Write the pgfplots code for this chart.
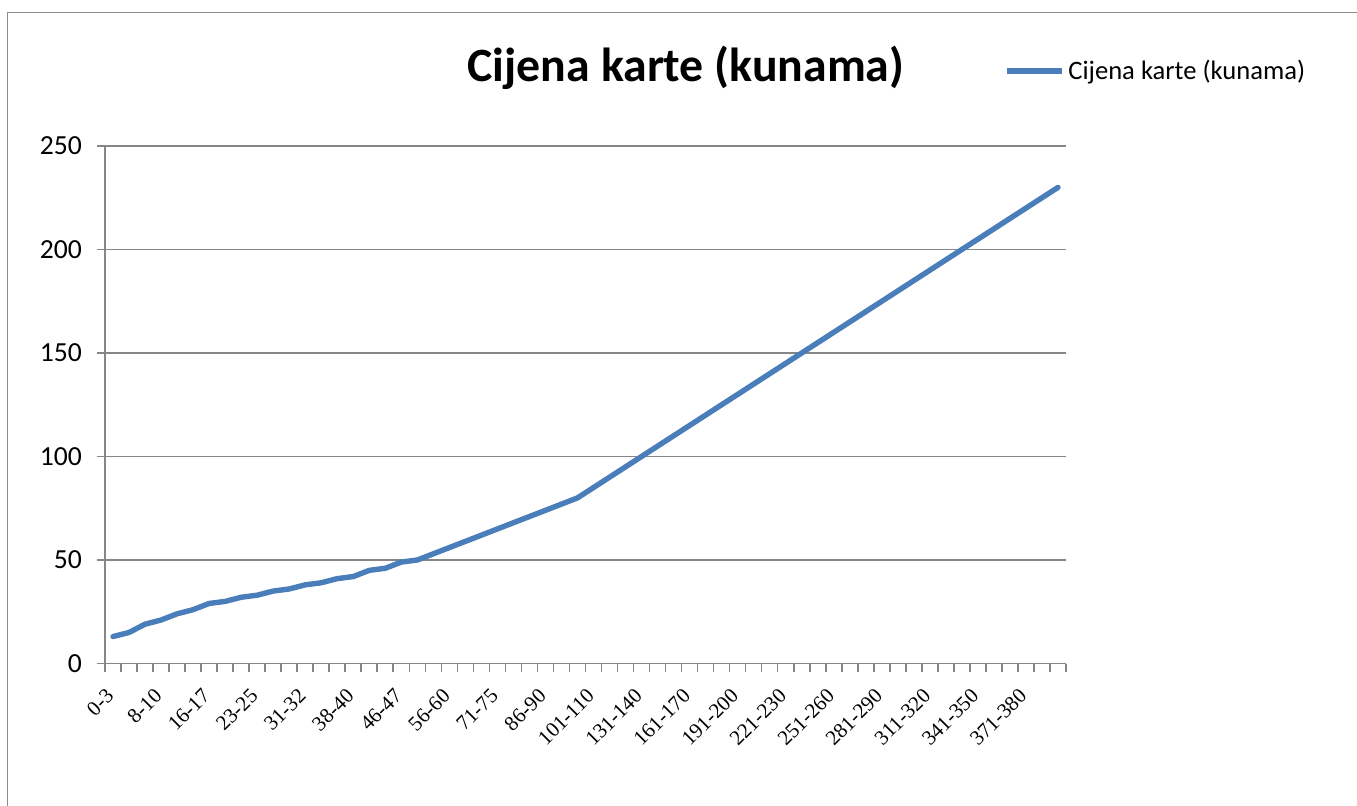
\documentclass[border=0pt]{standalone}
\usepackage{fontspec}
\setmainfont{Carlito}
\newfontfamily\timesf{Liberation Serif}
\usepackage{pgfplots}
\usepackage{pgfplotstable}
\pgfplotsset{compat=1.18}
\definecolor{serblue}{HTML}{4A7EBB}
\definecolor{axgray}{HTML}{868686}
\definecolor{bordgray}{HTML}{8C8C8C}
% idx = category (km range), value = ticket price
\pgfplotstableread{
idx value
0 13
1 15
2 19
3 21
4 24
5 26
6 29
7 30
8 32
9 33
10 35
11 36
12 38
13 39
14 41
15 42
16 45
17 46
18 49
19 50
20 53
21 56
22 59
23 62
24 65
25 68
26 71
27 74
28 77
29 80
30 85
31 90
32 95
33 100
34 105
35 110
36 115
37 120
38 125
39 130
40 135
41 140
42 145
43 150
44 155
45 160
46 165
47 170
48 175
49 180
50 185
51 190
52 195
53 200
54 205
55 210
56 215
57 220
58 225
59 230
}\pricedata
\begin{document}
\begin{tikzpicture}
\useasboundingbox (0,0) rectangle (678.5pt,402.5pt);
\draw[bordgray, line width=0.8pt] (3.8pt,-20pt) rectangle (700pt,396.2pt);
\begin{axis}[
  at={(52.5pt,70.75pt)}, anchor=south west,
  scale only axis, width=480.5pt, height=258.75pt,
  xmin=-0.5, xmax=59.5, ymin=0, ymax=250,
  axis lines*=left,
  axis line style={axgray, line width=0.8pt},
  every tick/.style={axgray, line width=0.8pt},
  tick align=outside,
  major tick length=4pt,
  xtick={-0.5,0.5,...,59.5},
  xticklabels={},
  extra x ticks={0,3,...,57},
  extra x tick labels={0-3,8-10,16-17,23-25,31-32,38-40,46-47,56-60,71-75,86-90,101-110,131-140,161-170,191-200,221-230,251-260,281-290,311-320,341-350,371-380},
  extra x tick style={major tick length=0pt, xticklabel style={font=\timesf\fontsize{10.5}{12}\selectfont, xshift=1pt, yshift=-12pt, rotate=45, anchor=east}},
  ytick={0,50,...,250},
  ymajorgrids,
  grid style={axgray, line width=0.8pt},
  /pgf/number format/assume math mode=true,
  yticklabel style={font=\fontsize{13.8}{15}\selectfont, xshift=-4pt},
  title={Cijena karte (kunama)},
  title style={at={(0.6046,1.128)}, anchor=center, font=\bfseries\fontsize{23.9}{26}\selectfont},
  legend style={draw=none, fill=none, at={(0.9355,1.145)}, anchor=west, inner sep=0pt, outer sep=0pt, font=\fontsize{13.3}{15}\selectfont},
  legend image code/.code={\draw[#1, line cap=butt] (0pt,0pt) -- (27.5pt,0pt);},
]
\addplot[serblue, line width=2.7pt, line join=round, line cap=round] table[x=idx, y=value] {\pricedata};
\addlegendentry{Cijena karte (kunama)}
\end{axis}
\end{tikzpicture}
\end{document}
